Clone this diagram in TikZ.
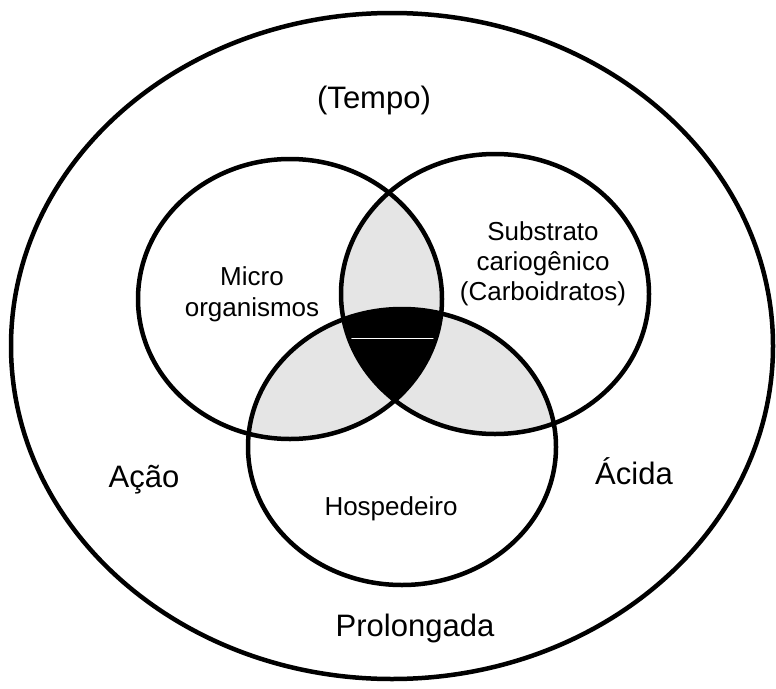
\documentclass[tikz,border=0pt]{standalone}
\usepackage{fontspec}
\setmainfont{Liberation Sans}
\definecolor{lensgray}{gray}{0.9}
\begin{document}
\begin{tikzpicture}[x=1pt,y=-1pt,
  ring/.style={line width=4.5pt},
  big/.style={font=\fontsize{31}{37}\selectfont, anchor=base, inner sep=0pt},
  small/.style={font=\fontsize{26}{31}\selectfont, anchor=base, inner sep=0pt}]
\useasboundingbox (0,0) rectangle (776,688);
% pairwise lenses
\begin{scope}
  \clip (290,299) ellipse [x radius=152pt, y radius=140pt];
  \fill[lensgray] (495,294) ellipse [x radius=154pt, y radius=140pt];
\end{scope}
\begin{scope}
  \clip (290,299) ellipse [x radius=152pt, y radius=140pt];
  \fill[lensgray] (402,447) ellipse [x radius=154pt, y radius=138pt];
\end{scope}
\begin{scope}
  \clip (495,294) ellipse [x radius=154pt, y radius=140pt];
  \fill[lensgray] (402,447) ellipse [x radius=154pt, y radius=138pt];
\end{scope}
% triple intersection
\begin{scope}
  \clip (290,299) ellipse [x radius=152pt, y radius=140pt];
  \clip (495,294) ellipse [x radius=154pt, y radius=140pt];
  \fill[black] (402,447) ellipse [x radius=154pt, y radius=138pt];
  \draw[white, line width=1pt] (330,338) -- (460,338);
\end{scope}
% outlines
\draw[ring] (392,346) ellipse [x radius=381pt, y radius=333pt];
\draw[ring] (290,299) ellipse [x radius=152pt, y radius=140pt];
\draw[ring] (495,294) ellipse [x radius=154pt, y radius=140pt];
\draw[ring] (402,447) ellipse [x radius=154pt, y radius=138pt];
% labels
\node[big] (tempo) at (374,108) {(Tempo)};
\node[big] (acao) at (144,487) {Ação};
\node[big] (acida) at (634,484) {Ácida};
\node[big] (prol) at (415,636) {Prolongada};
\node[small] (micro1) at (252,285) {Micro};
\node[small] (micro2) at (252,316) {organismos};
\node[small] (sub1) at (543,240) {Substrato};
\node[small] (sub2) at (543,270) {cariogênico};
\node[small] (sub3) at (543,300) {(Carboidratos)};
\node[small] (hosp) at (391,515) {Hospedeiro};
\end{tikzpicture}
\end{document}
